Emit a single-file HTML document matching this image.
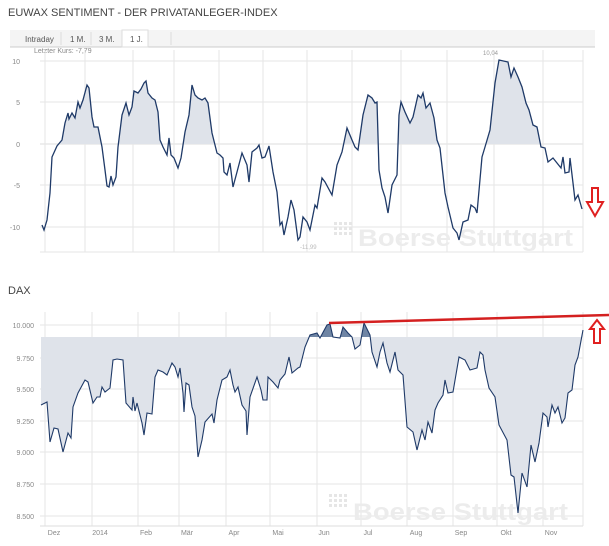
<!DOCTYPE html>
<html><head><meta charset="utf-8"><style>
body{margin:0;width:609px;height:541px;background:#fff;overflow:hidden;font-family:"Liberation Sans",sans-serif;}
</style></head><body>
<svg width="609" height="541" xmlns="http://www.w3.org/2000/svg" font-family="Liberation Sans, sans-serif">
<defs>
<clipPath id="above"><rect x="0" y="0" width="609" height="144"/></clipPath>
<clipPath id="a2"><rect x="0" y="0" width="609" height="337"/></clipPath>
</defs>
<text x="8" y="16" font-size="11" fill="#444">EUWAX SENTIMENT - DER PRIVATANLEGER-INDEX</text>
<rect x="10" y="30" width="585" height="17" fill="#f4f4f4"/>
<line x1="10" y1="47" x2="595" y2="47" stroke="#ccc"/>
<rect x="122" y="30" width="26" height="17" fill="#fff" stroke="#ddd"/>
<g font-size="8" fill="#555">
<text x="25" y="42">Intraday</text><text x="70" y="42">1 M.</text><text x="99" y="42">3 M.</text><text x="130" y="42">1 J.</text></g>
<g stroke="#ddd"><line x1="61" y1="32" x2="61" y2="45"/><line x1="91" y1="32" x2="91" y2="45"/><line x1="171" y1="32" x2="171" y2="45"/></g>
<text x="34" y="53" font-size="7" fill="#888">Letzter Kurs: -7,79</text>
<g stroke="#e6e6e6">
<line x1="40" y1="61" x2="583" y2="61"/><line x1="40" y1="102" x2="583" y2="102"/><line x1="40" y1="144" x2="583" y2="144" stroke="#ddd"/><line x1="40" y1="185" x2="583" y2="185"/><line x1="40" y1="227" x2="583" y2="227"/><line x1="40" y1="252" x2="583" y2="252"/>
<line x1="45" y1="50" x2="45" y2="252"/><line x1="85" y1="50" x2="85" y2="252"/><line x1="133" y1="50" x2="133" y2="252"/><line x1="174" y1="50" x2="174" y2="252"/><line x1="219" y1="50" x2="219" y2="252"/><line x1="263" y1="50" x2="263" y2="252"/><line x1="307" y1="50" x2="307" y2="252"/><line x1="352" y1="50" x2="352" y2="252"/><line x1="401" y1="50" x2="401" y2="252"/><line x1="447" y1="50" x2="447" y2="252"/><line x1="494" y1="50" x2="494" y2="252"/><line x1="543" y1="50" x2="543" y2="252"/><line x1="583" y1="50" x2="583" y2="252"/>
</g>
<g font-size="7" fill="#888" text-anchor="end"><text x="20" y="64">10</text><text x="20" y="105">5</text><text x="20" y="147">0</text><text x="20" y="188">-5</text><text x="20" y="230">-10</text></g>
<g fill="#e6e6e6"><rect x="334" y="222" width="3" height="3"/><rect x="339" y="222" width="3" height="3"/><rect x="344" y="222" width="3" height="3"/><rect x="349" y="222" width="3" height="3"/><rect x="334" y="227" width="3" height="3"/><rect x="339" y="227" width="3" height="3"/><rect x="344" y="227" width="3" height="3"/><rect x="349" y="227" width="3" height="3"/><rect x="334" y="232" width="3" height="3"/><rect x="339" y="232" width="3" height="3"/><rect x="344" y="232" width="3" height="3"/><rect x="349" y="232" width="3" height="3"/></g>
<text x="358" y="246" font-size="24" font-weight="bold" fill="#ececec" textLength="215" lengthAdjust="spacingAndGlyphs">Boerse Stuttgart</text>
<text x="483" y="55" font-size="6" fill="#999">10,04</text>
<text x="300" y="249" font-size="6" fill="#bbb">-11,99</text>
<g id="top">
<polygon clip-path="url(#above)" fill="#dfe3ea" points="42,144 42,225 44,230 47,220 50,193 52,157 57,146 62,140 65,123 68,113 69,119 72,113 75,118 78,102 80,108 83,100 87,85 89,88 92,117 94,127 98,127 102,147 105,170 107,186 109,187 111,176 113,185 116,177 118,147 122,115 126,103 129,115 132,107 134,91 138,93 141,89 144,83 146,81 148,93 152,98 155,100 158,112 160,140 163,147 167,155 169,138 171,155 174,158 178,168 181,158 185,132 189,115 192,85 195,95 198,98 202,100 205,98 208,103 212,133 213,137 217,153 220,155 223,158 224,172 227,175 230,163 233,187 237,172 242,153 247,165 249,182 252,152 257,148 259,145 262,158 265,157 269,146 273,172 277,192 280,225 282,222 284,235 288,217 291,200 294,210 298,240 300,237 303,217 307,222 310,230 315,205 317,208 322,178 325,182 332,195 337,165 342,152 347,128 352,140 355,147 358,150 363,115 368,95 372,98 375,103 377,102 379,170 382,188 385,197 388,213 392,185 397,175 399,115 401,102 405,112 410,123 413,117 418,95 421,98 423,93 426,108 430,103 434,118 437,140 440,148 445,193 448,207 453,228 457,233 459,240 463,222 468,220 471,205 475,208 477,213 482,157 485,147 490,130 495,83 499,60 508,62 511,77 514,68 518,77 522,87 526,103 529,110 533,125 537,127 541,147 545,148 548,162 553,158 557,163 561,168 563,157 565,173 569,172 570,158 573,183 575,200 578,195 582,209 582,144"/>
<polyline fill="none" stroke="#1f3a68" stroke-width="1.3" points="42,225 44,230 47,220 50,193 52,157 57,146 62,140 65,123 68,113 69,119 72,113 75,118 78,102 80,108 83,100 87,85 89,88 92,117 94,127 98,127 102,147 105,170 107,186 109,187 111,176 113,185 116,177 118,147 122,115 126,103 129,115 132,107 134,91 138,93 141,89 144,83 146,81 148,93 152,98 155,100 158,112 160,140 163,147 167,155 169,138 171,155 174,158 178,168 181,158 185,132 189,115 192,85 195,95 198,98 202,100 205,98 208,103 212,133 213,137 217,153 220,155 223,158 224,172 227,175 230,163 233,187 237,172 242,153 247,165 249,182 252,152 257,148 259,145 262,158 265,157 269,146 273,172 277,192 280,225 282,222 284,235 288,217 291,200 294,210 298,240 300,237 303,217 307,222 310,230 315,205 317,208 322,178 325,182 332,195 337,165 342,152 347,128 352,140 355,147 358,150 363,115 368,95 372,98 375,103 377,102 379,170 382,188 385,197 388,213 392,185 397,175 399,115 401,102 405,112 410,123 413,117 418,95 421,98 423,93 426,108 430,103 434,118 437,140 440,148 445,193 448,207 453,228 457,233 459,240 463,222 468,220 471,205 475,208 477,213 482,157 485,147 490,130 495,83 499,60 508,62 511,77 514,68 518,77 522,87 526,103 529,110 533,125 537,127 541,147 545,148 548,162 553,158 557,163 561,168 563,157 565,173 569,172 570,158 573,183 575,200 578,195 582,209"/>
</g>
<path d="M592,188 h6 v14 h5 l-8,14 l-8,-14 h5 z" fill="#fff" stroke="#e02020" stroke-width="2"/>

<text x="8" y="294" font-size="11" fill="#444">DAX</text>
<g stroke="#e6e6e6">
<line x1="40" y1="325" x2="583" y2="325"/><line x1="40" y1="358" x2="583" y2="358"/><line x1="40" y1="389" x2="583" y2="389"/><line x1="40" y1="421" x2="583" y2="421"/><line x1="40" y1="452" x2="583" y2="452"/><line x1="40" y1="484" x2="583" y2="484"/><line x1="40" y1="516" x2="583" y2="516"/>
<line x1="45" y1="312" x2="45" y2="526"/><line x1="92" y1="312" x2="92" y2="526"/><line x1="138" y1="312" x2="138" y2="526"/><line x1="179" y1="312" x2="179" y2="526"/><line x1="226" y1="312" x2="226" y2="526"/><line x1="270" y1="312" x2="270" y2="526"/><line x1="317" y1="312" x2="317" y2="526"/><line x1="361" y1="312" x2="361" y2="526"/><line x1="407" y1="312" x2="407" y2="526"/><line x1="453" y1="312" x2="453" y2="526"/><line x1="497" y1="312" x2="497" y2="526"/><line x1="543" y1="312" x2="543" y2="526"/><line x1="583" y1="312" x2="583" y2="526"/>
<line x1="40" y1="526" x2="583" y2="526" stroke="#ddd"/>
</g>
<g font-size="7" fill="#888" text-anchor="end"><text x="34" y="328">10.000</text><text x="34" y="361">9.750</text><text x="34" y="392">9.500</text><text x="34" y="424">9.250</text><text x="34" y="455">9.000</text><text x="34" y="487">8.750</text><text x="34" y="519">8.500</text></g>
<g font-size="7" fill="#888" text-anchor="middle"><text x="54" y="535">Dez</text><text x="100" y="535">2014</text><text x="146" y="535">Feb</text><text x="187" y="535">Mär</text><text x="234" y="535">Apr</text><text x="278" y="535">Mai</text><text x="324" y="535">Jun</text><text x="368" y="535">Jul</text><text x="416" y="535">Aug</text><text x="461" y="535">Sep</text><text x="506" y="535">Okt</text><text x="551" y="535">Nov</text></g>
<g fill="#e6e6e6"><rect x="329" y="494" width="3" height="3"/><rect x="334" y="494" width="3" height="3"/><rect x="339" y="494" width="3" height="3"/><rect x="344" y="494" width="3" height="3"/><rect x="329" y="499" width="3" height="3"/><rect x="334" y="499" width="3" height="3"/><rect x="339" y="499" width="3" height="3"/><rect x="344" y="499" width="3" height="3"/><rect x="329" y="504" width="3" height="3"/><rect x="334" y="504" width="3" height="3"/><rect x="339" y="504" width="3" height="3"/><rect x="344" y="504" width="3" height="3"/></g>
<text x="353" y="520" font-size="24" font-weight="bold" fill="#ececec" textLength="215" lengthAdjust="spacingAndGlyphs">Boerse Stuttgart</text>
<polygon fill="#dfe3ea" points="41,337 41,405 47,402 50,442 54,428 58,429 63,452 68,433 71,438 73,407 78,393 85,380 88,382 93,403 97,397 100,397 102,387 105,392 110,388 113,360 117,359 123,360 126,403 132,410 133,397 135,411 137,403 142,423 144,435 147,413 152,414 155,377 158,370 163,372 167,375 172,363 175,367 178,377 180,368 183,393 184,412 186,383 189,385 192,407 195,416 198,457 202,440 205,422 212,414 214,423 217,400 222,380 227,377 230,370 233,385 235,392 238,387 242,405 246,411 247,435 250,397 257,377 261,390 263,400 267,400 268,377 273,382 278,388 280,380 285,374 289,357 292,373 298,368 300,367 305,347 310,335 317,333 320,338 327,325 330,324 333,337 340,338 343,327 348,333 352,337 355,349 360,345 364,323 370,335 372,352 377,367 380,352 383,343 387,363 390,372 395,352 398,370 403,375 407,427 413,432 417,450 422,430 425,440 428,422 432,433 435,410 438,403 443,395 445,380 448,393 453,392 459,357 465,360 470,370 477,368 480,352 483,355 485,370 489,388 495,397 499,425 507,440 511,475 514,477 518,513 522,473 527,487 531,445 535,462 539,443 543,413 547,417 548,427 552,405 555,413 558,407 562,423 565,418 568,393 572,390 575,365 578,357 583,330 583,337"/>
<polygon clip-path="url(#a2)" fill="#6f85a4" points="300,337 300,367 305,347 310,335 317,333 320,338 327,325 330,324 333,337 340,338 343,327 348,333 352,337 355,349 360,345 364,323 370,335 372,352 372,337"/>
<polyline fill="none" stroke="#1f3a68" stroke-width="1.1" points="41,405 47,402 50,442 54,428 58,429 63,452 68,433 71,438 73,407 78,393 85,380 88,382 93,403 97,397 100,397 102,387 105,392 110,388 113,360 117,359 123,360 126,403 132,410 133,397 135,411 137,403 142,423 144,435 147,413 152,414 155,377 158,370 163,372 167,375 172,363 175,367 178,377 180,368 183,393 184,412 186,383 189,385 192,407 195,416 198,457 202,440 205,422 212,414 214,423 217,400 222,380 227,377 230,370 233,385 235,392 238,387 242,405 246,411 247,435 250,397 257,377 261,390 263,400 267,400 268,377 273,382 278,388 280,380 285,374 289,357 292,373 298,368 300,367 305,347 310,335 317,333 320,338 327,325 330,324 333,337 340,338 343,327 348,333 352,337 355,349 360,345 364,323 370,335 372,352 377,367 380,352 383,343 387,363 390,372 395,352 398,370 403,375 407,427 413,432 417,450 422,430 425,440 428,422 432,433 435,410 438,403 443,395 445,380 448,393 453,392 459,357 465,360 470,370 477,368 480,352 483,355 485,370 489,388 495,397 499,425 507,440 511,475 514,477 518,513 522,473 527,487 531,445 535,462 539,443 543,413 547,417 548,427 552,405 555,413 558,407 562,423 565,418 568,393 572,390 575,365 578,357 583,330"/>
<line x1="329" y1="323" x2="609" y2="315" stroke="#d42020" stroke-width="2.5"/>
<path d="M597,320 l7,9 h-4 v14 h-6 v-14 h-4 z" fill="#fff" stroke="#e02020" stroke-width="2"/>
</svg>
</body></html>
